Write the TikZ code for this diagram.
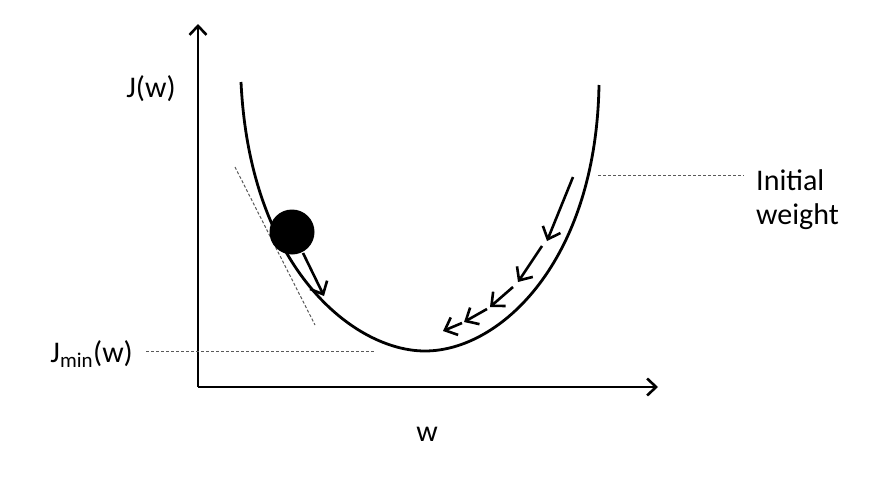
\documentclass[tikz,border=0pt]{standalone}
\usepackage{fontspec}
\setmainfont{Carlito}
\usetikzlibrary{arrows.meta}
\begin{document}
\begin{tikzpicture}[x=1pt,y=-1pt,
  axisline/.style={line width=2.8pt,-{Straight Barb[length=9pt,width=17pt,line width=2.6pt]}},
  curveline/.style={line width=2.8pt},
  steparrow/.style={line width=2.6pt,-{Straight Barb[length=10.5pt,width=19pt,line width=2.6pt]}},
  guide/.style={line width=1pt,gray!70!black,dash pattern=on 3pt off 2pt},
  lbl/.style={font=\fontsize{30}{34}\selectfont,inner sep=0pt}]
\useasboundingbox (0,0) rectangle (889,490);
\fill[white] (0,0) rectangle (889,490);
% axes
\coordinate (O) at (198,387);
\coordinate (ytop) at (198,24);
\coordinate (xend) at (658,387);
\draw[axisline] (O) -- (ytop);
\draw[axisline] (O) -- (xend);
% cost curve
\coordinate (cL) at (241,82);
\coordinate (cB) at (425,351);
\coordinate (cR) at (599,85);
\draw[curveline] (cL) .. controls (250,270) and (355,351) .. (cB)
                      .. controls (500,351) and (596,262) .. (cR);
% tangent line
\coordinate (t1) at (235,167);
\coordinate (t2) at (315,325);
\draw[guide] (t1) -- (t2);
% ball
\node[circle,fill=black,minimum size=45pt,inner sep=0pt] (ball) at (292,232) {};
\coordinate (b1) at (303,253);
\coordinate (b2) at (324,296);
\draw[steparrow] (b1) -- (b2);
% descent steps
\coordinate (s0) at (573,177);
\coordinate (s1) at (547,241);
\coordinate (s2) at (542,246);
\coordinate (s3) at (518,282);
\coordinate (s4) at (513,287);
\coordinate (s5) at (490,307);
\coordinate (s6) at (487,309);
\coordinate (s7) at (464,322);
\coordinate (s8) at (462,323);
\coordinate (s9) at (443,331);
\draw[steparrow] (s0) -- (s1);
\draw[steparrow] (s2) -- (s3);
\draw[steparrow] (s4) -- (s5);
\draw[steparrow] (s6) -- (s7);
\draw[steparrow] (s8) -- (s9);
% labels
\node[lbl] (J) at (151,89) {J(w)};
\node[lbl,anchor=base east] (Jmin) at (133,362) {J\textsubscript{min}(w)};
\node[lbl] (W) at (427,434) {w};
\node[lbl,anchor=base west,align=left] (init) at (756,224) {Initial\\weight};
% guide lines
\coordinate (g1) at (146,351);
\coordinate (g2) at (375,351);
\draw[guide] (g1) -- (g2);
\coordinate (g3) at (598,175);
\coordinate (g4) at (744,175);
\draw[guide] (g3) -- (g4);
\end{tikzpicture}
\end{document}
